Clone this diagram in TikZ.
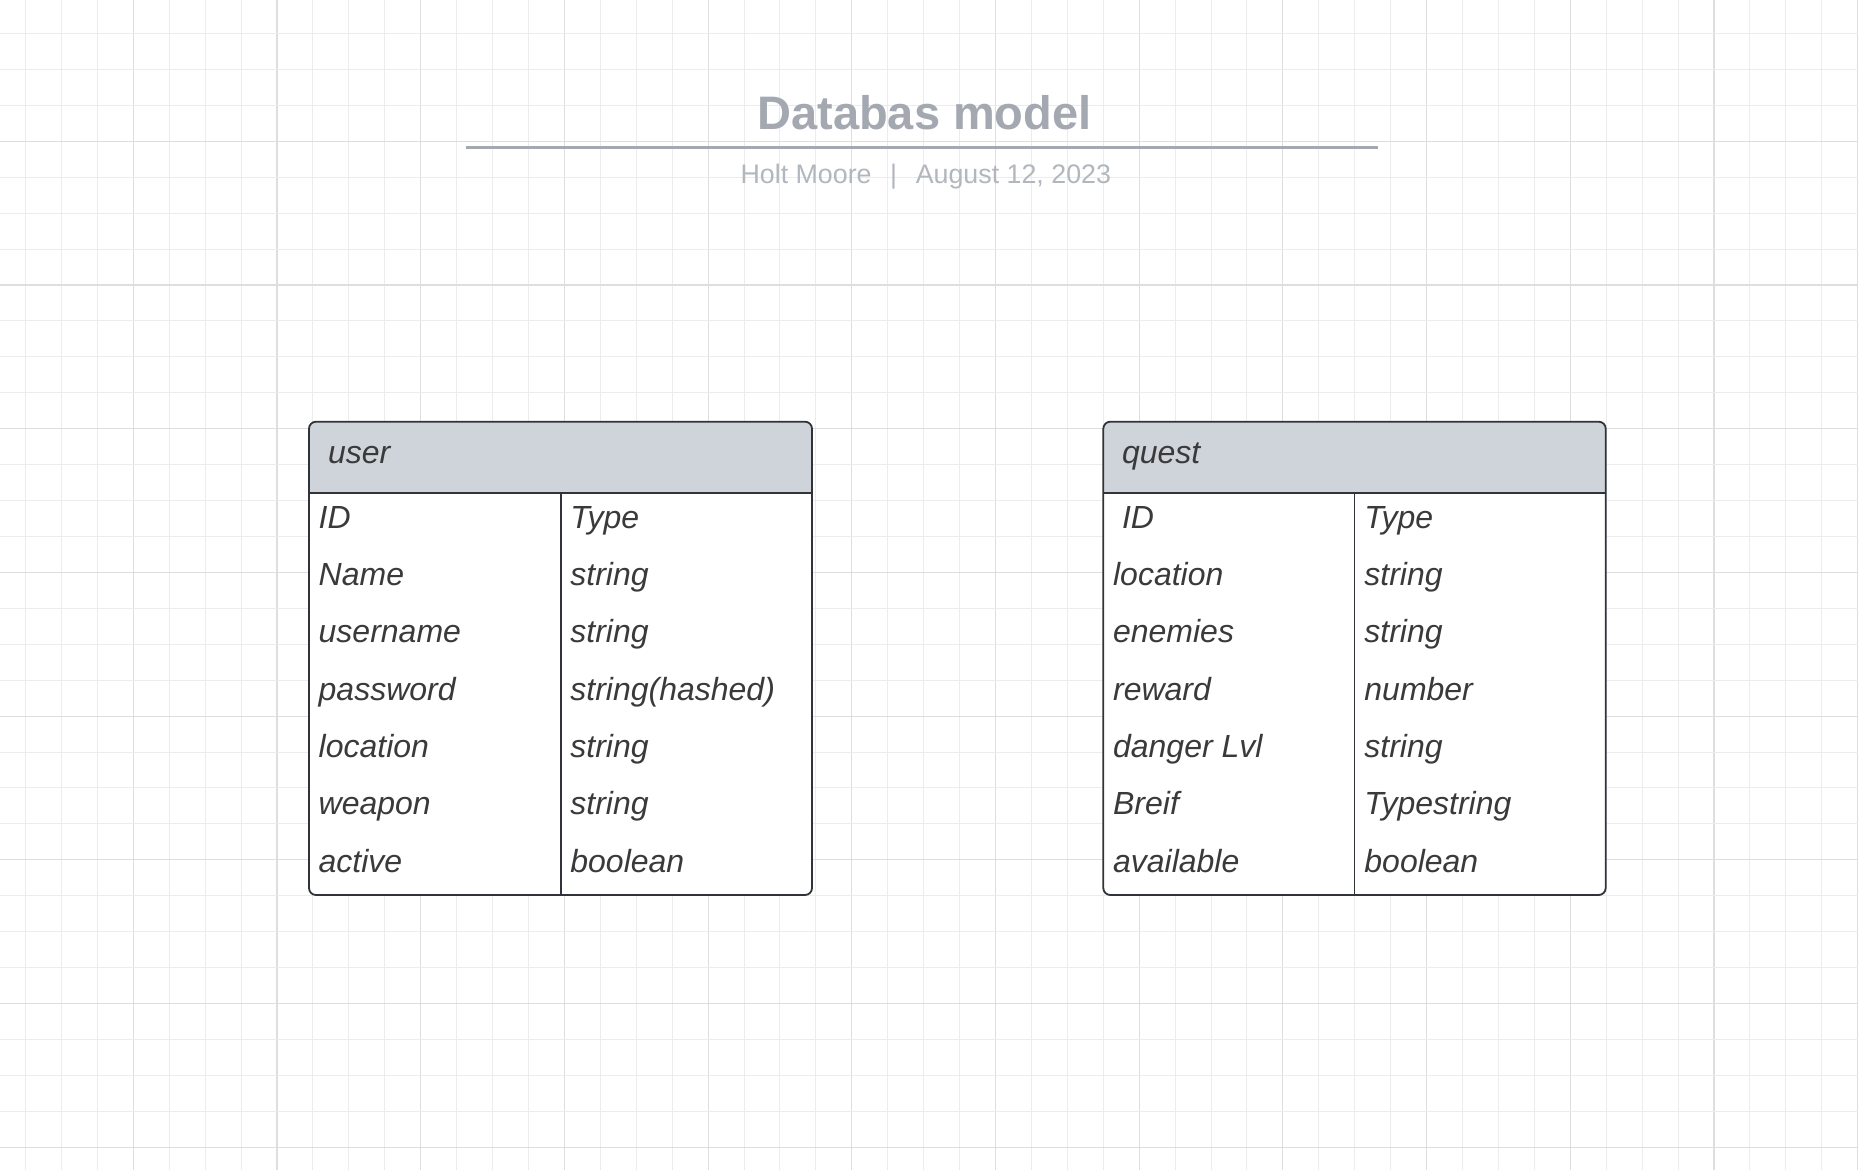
\documentclass[tikz,border=0pt]{standalone}
\usepackage{fontspec}
\setmainfont{Liberation Sans}
\definecolor{gridminor}{RGB}{236,236,236}
\definecolor{gridmajor}{RGB}{222,222,222}
\definecolor{titlegrey}{RGB}{164,169,177}
\definecolor{subgrey}{RGB}{178,182,189}
\definecolor{hdrfill}{RGB}{207,212,219}
\definecolor{border}{RGB}{48,52,58}
\definecolor{bodytext}{RGB}{58,58,58}
\tikzset{
  minorline/.style={draw=gridminor, line width=0.5pt},
  majorline/.style={draw=gridmajor, line width=0.55pt},
  titletext/.style={font=\fontsize{23.5pt}{28pt}\selectfont\bfseries, text=titlegrey, inner sep=0, anchor=base},
  subtext/.style={font=\fontsize{13.4pt}{16pt}\selectfont, text=subgrey, inner sep=0, anchor=base},
  titlerule/.style={draw=titlegrey, line width=1.7pt},
  tblborder/.style={draw=border, line width=0.9pt},
  cell/.style={font=\fontsize{16pt}{19pt}\selectfont\itshape, text=bodytext, inner sep=0, anchor=base west},
}
\begin{document}
\begin{tikzpicture}[x=0.5pt,y=-0.5pt]
\useasboundingbox (0,0) rectangle (1858,1170);
\fill[white] (0,0) rectangle (1858,1170);
% grid
\begin{scope}
\clip (0,0) rectangle (1858,1170);
\foreach \j in {0,...,53} {
  \pgfmathsetmacro\xx{-10.4+35.925*\j}
  \pgfmathtruncatemacro\mm{mod(\j,4)}
  \ifnum\mm=0\relax
    \draw[majorline] (\xx,0) -- (\xx,1170);
  \else
    \draw[minorline] (\xx,0) -- (\xx,1170);
  \fi
}
\foreach \j in {0,...,34} {
  \pgfmathsetmacro\yy{-2.4+35.925*\j}
  \pgfmathtruncatemacro\mm{mod(\j,4)}
  \ifnum\mm=0\relax
    \draw[majorline] (0,\yy) -- (1858,\yy);
  \else
    \draw[minorline] (0,\yy) -- (1858,\yy);
  \fi
}
\end{scope}
% title
\node[titletext] (title) at (924.5,130) {Databas model};
\coordinate (ruleL) at (466,147.7);
\coordinate (ruleR) at (1378,147.7);
\draw[titlerule] (ruleL) -- (ruleR);
\node[subtext] (subtitle) at (925.8,183.3) {Holt Moore\hspace{9.3pt}|\hspace{9.3pt}August 12, 2023};
% user table
\fill[white, rounded corners=3.5pt] (309,421.7) rectangle (812,895);
\begin{scope}
\clip[rounded corners=3.5pt] (309,421.7) rectangle (812,895);
\fill[hdrfill] (309,421.7) rectangle (812,492.7);
\end{scope}
\draw[tblborder] (309,492.7) -- (812,492.7);
\draw[tblborder] (560.6,492.7) -- (560.6,895);
\draw[tblborder, rounded corners=3.5pt] (309,421.7) rectangle (812,895);
\node[cell] (userhdr) at (327.7,463.3) {user};
\node[cell] (u1a) at (318.3,528.3) {ID};        \node[cell] (u1b) at (570,528.3) {Type};
\node[cell] (u2a) at (318.3,585.6) {Name};      \node[cell] (u2b) at (570,585.6) {string};
\node[cell] (u3a) at (318.3,642.9) {username};  \node[cell] (u3b) at (570,642.9) {string};
\node[cell] (u4a) at (318.3,700.2) {password};  \node[cell] (u4b) at (570,700.2) {string(hashed)};
\node[cell] (u5a) at (318.3,757.5) {location};  \node[cell] (u5b) at (570,757.5) {string};
\node[cell] (u6a) at (318.3,814.8) {weapon};    \node[cell] (u6b) at (570,814.8) {string};
\node[cell] (u7a) at (318.3,872.1) {active};    \node[cell] (u7b) at (570,872.1) {boolean};
% quest table
\fill[white, rounded corners=3.5pt] (1103.3,421.7) rectangle (1605.7,895);
\begin{scope}
\clip[rounded corners=3.5pt] (1103.3,421.7) rectangle (1605.7,895);
\fill[hdrfill] (1103.3,421.7) rectangle (1605.7,492.7);
\end{scope}
\draw[tblborder] (1103.3,492.7) -- (1605.7,492.7);
\draw[tblborder] (1354.5,492.7) -- (1354.5,895);
\draw[tblborder, rounded corners=3.5pt] (1103.3,421.7) rectangle (1605.7,895);
\node[cell] (questhdr) at (1121.7,463.3) {quest};
\node[cell] (q1a) at (1112.7,528.3) {\ ID};        \node[cell] (q1b) at (1364,528.3) {Type};
\node[cell] (q2a) at (1112.7,585.6) {location};    \node[cell] (q2b) at (1364,585.6) {string};
\node[cell] (q3a) at (1112.7,642.9) {enemies};     \node[cell] (q3b) at (1364,642.9) {string};
\node[cell] (q4a) at (1112.7,700.2) {reward};      \node[cell] (q4b) at (1364,700.2) {number};
\node[cell] (q5a) at (1112.7,757.5) {danger Lvl};  \node[cell] (q5b) at (1364,757.5) {string};
\node[cell] (q6a) at (1112.7,814.8) {Breif};       \node[cell] (q6b) at (1364,814.8) {Typestring};
\node[cell] (q7a) at (1112.7,872.1) {available};   \node[cell] (q7b) at (1364,872.1) {boolean};
\end{tikzpicture}
\end{document}
